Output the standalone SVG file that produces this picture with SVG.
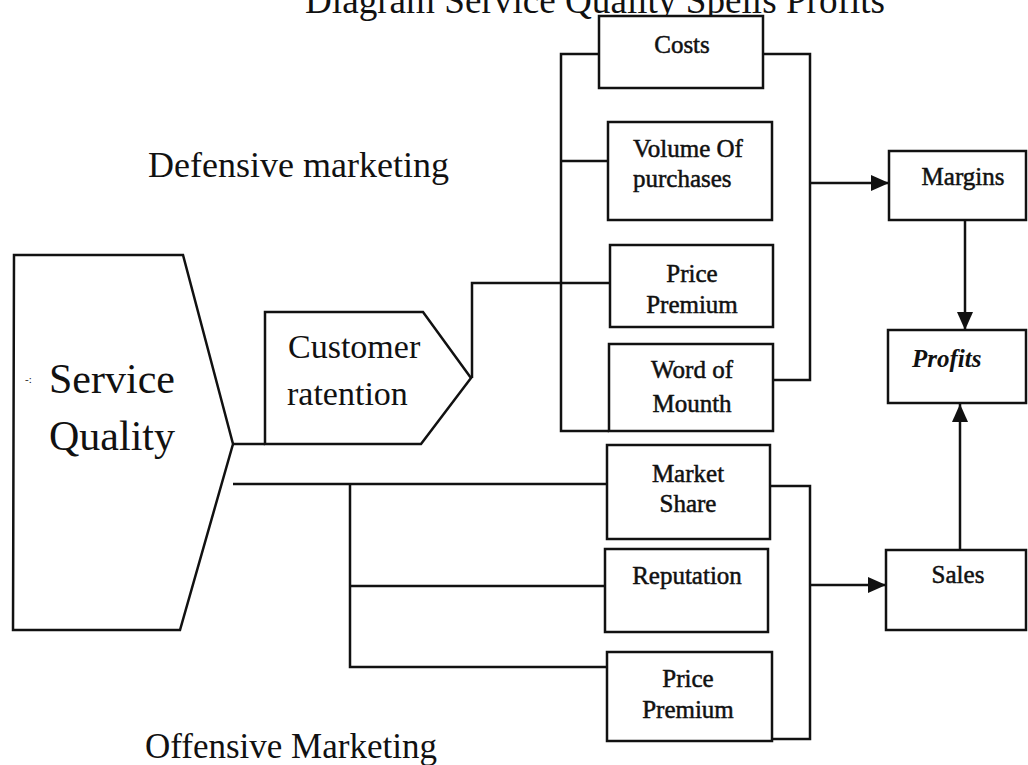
<svg xmlns="http://www.w3.org/2000/svg" width="1028" height="765" viewBox="0 0 1028 765">
<defs>
<style>
.bx{fill:#fff;stroke:#111;stroke-width:2.5}
.ln{fill:none;stroke:#111;stroke-width:2.5}
.t{font-family:"Liberation Serif","Times New Roman",serif;fill:#111}
.lab{font-size:25px;stroke:#111;stroke-width:0.5;text-anchor:middle}
.big{font-size:36px}
</style>
<marker id="ah" viewBox="0 0 18 16" refX="18" refY="8" markerWidth="18" markerHeight="16" markerUnits="userSpaceOnUse" orient="auto">
<path d="M0,0 L18,8 L0,16 Z" fill="#111"/>
</marker>
</defs>
<rect width="1028" height="765" fill="#fff"/>

<text class="t" x="595" y="13" font-size="37" text-anchor="middle" textLength="580" lengthAdjust="spacingAndGlyphs">Diagram Service Quality Spells Profits</text>
<text class="t big" x="148" y="177">Defensive marketing</text>
<text class="t" x="145" y="758" font-size="35">Offensive Marketing</text>

<g id="connectors">
<polyline class="ln" points="599,54 561,54 561,431 609,431"/>
<line class="ln" x1="561" y1="161" x2="608" y2="161"/>
<polyline class="ln" points="763,54 810,54 810,380 773,380"/>
<line class="ln" x1="810" y1="183" x2="889" y2="183" marker-end="url(#ah)"/>
<polyline class="ln" points="472,378 472,283 610,283"/>
<line class="ln" x1="233" y1="444" x2="265" y2="444"/>
<line class="ln" x1="233" y1="484" x2="607" y2="484"/>
<polyline class="ln" points="350,484 350,667 607,667"/>
<line class="ln" x1="350" y1="586" x2="605" y2="586"/>
<polyline class="ln" points="770,486 810,486 810,739 772,739"/>
<line class="ln" x1="810" y1="585" x2="886" y2="585" marker-end="url(#ah)"/>
<line class="ln" x1="965" y1="221" x2="965" y2="330" marker-end="url(#ah)"/>
<line class="ln" x1="960" y1="550" x2="960" y2="404" marker-end="url(#ah)"/>
</g>

<g id="service-quality">
<polygon class="bx" points="14,255 183,255 233,444 180,630 13,630"/>
<text class="t" x="25" y="383" font-size="11" fill="#555">-:</text>
<text class="t" x="49" y="393" font-size="42">Service</text>
<text class="t" x="49" y="450" font-size="42">Quality</text>
</g>

<g id="customer-retention">
<polygon class="bx" points="265,312 423,312 471,378 421,444 265,444"/>
<text class="t" x="288" y="358" font-size="34">Customer</text>
<text class="t" x="287" y="405" font-size="34">ratention</text>
</g>

<g id="costs">
<rect class="bx" x="599" y="16" width="164" height="72"/>
<text class="t lab" x="682" y="53">Costs</text>
</g>

<g id="volume">
<rect class="bx" x="608" y="122" width="164" height="98"/>
<text class="t lab" x="633" y="157" text-anchor="start" style="text-anchor:start">Volume Of</text>
<text class="t lab" x="633" y="187" style="text-anchor:start">purchases</text>
</g>

<g id="price-premium-def">
<rect class="bx" x="610" y="245" width="163" height="82"/>
<text class="t lab" x="692" y="282">Price</text>
<text class="t lab" x="692" y="313">Premium</text>
</g>

<g id="word-of-mouth">
<rect class="bx" x="609" y="344" width="164" height="87"/>
<text class="t lab" x="692" y="378">Word of</text>
<text class="t lab" x="692" y="412">Mounth</text>
</g>

<g id="market-share">
<rect class="bx" x="607" y="445" width="163" height="94"/>
<text class="t lab" x="688" y="482">Market</text>
<text class="t lab" x="688" y="512">Share</text>
</g>

<g id="reputation">
<rect class="bx" x="605" y="549" width="163" height="83"/>
<text class="t lab" x="687" y="584">Reputation</text>
</g>

<g id="price-premium-off">
<rect class="bx" x="607" y="652" width="165" height="89"/>
<text class="t lab" x="688" y="687">Price</text>
<text class="t lab" x="688" y="718">Premium</text>
</g>

<g id="margins">
<rect class="bx" x="889" y="151" width="137" height="69"/>
<text class="t lab" x="963" y="185">Margins</text>
</g>

<g id="profits">
<rect class="bx" x="888" y="330" width="138" height="73"/>
<text class="t" x="912" y="367" font-size="25" font-weight="bold" font-style="italic">Profits</text>
</g>

<g id="sales">
<rect class="bx" x="886" y="550" width="140" height="80"/>
<text class="t lab" x="958" y="583">Sales</text>
</g>
</svg>
